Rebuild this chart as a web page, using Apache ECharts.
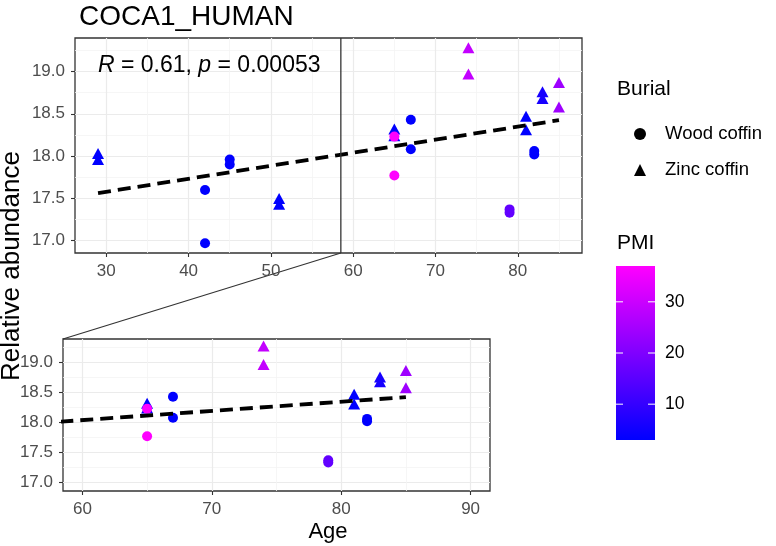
<!DOCTYPE html>
<html>
<head>
<meta charset="utf-8">
<script src="https://cdn.jsdelivr.net/npm/echarts@6/dist/echarts.min.js"></script>
<style>
html, body { margin: 0; padding: 0; background: #fff; }
#main { width: 776px; height: 546px; }
</style>
</head>
<body>
<div id="main"></div>
<script>
/* 数据 */
var ages      = [29, 29, 42, 42, 45, 45, 51, 51, 65, 65, 65, 65, 67, 67, 74, 74, 79, 79, 81, 81, 82, 82, 83, 83, 85, 85];
var abundance = [18.03, 17.96, 17.60, 16.97, 17.96, 17.90, 17.50, 17.43, 18.32, 18.24, 18.23, 17.77, 18.43, 18.08,
                 19.28, 18.97, 17.37, 17.33, 18.47, 18.31, 18.06, 18.02, 18.76, 18.68, 18.87, 18.58];
var burial    = ['Zinc coffin', 'Zinc coffin', 'Wood coffin', 'Wood coffin', 'Wood coffin', 'Wood coffin',
                 'Zinc coffin', 'Zinc coffin', 'Zinc coffin', 'Zinc coffin', 'Wood coffin', 'Wood coffin',
                 'Wood coffin', 'Wood coffin', 'Zinc coffin', 'Zinc coffin', 'Wood coffin', 'Wood coffin',
                 'Zinc coffin', 'Zinc coffin', 'Wood coffin', 'Wood coffin', 'Zinc coffin', 'Zinc coffin',
                 'Zinc coffin', 'Zinc coffin'];
var pmi       = [3, 3, 3, 3, 3, 3, 3, 3, 3, 3, 37, 37, 3, 3, 29, 29, 16, 16, 3, 3, 3, 3, 6, 6, 24, 24];

var burialTypes = ['Wood coffin', 'Zinc coffin'];
var burialIcons = ['circle', 'triangle'];
var zoomLimits  = [60, 90];
var xTicksTop    = [30, 40, 50, 60, 70, 80];
var xTicksBottom = [60, 70, 80, 90];
var yTicks       = [17.0, 17.5, 18.0, 18.5, 19.0];
var pmiRange     = [3, 37];
var pmiTicks     = [10, 20, 30];
var corLabel     = '{it|R} = 0.61, {it|p} = 0.00053';

var FONT = '"Liberation Sans", Arial, Helvetica, sans-serif';

// ggplot 式的 5% 扩展
function expand(lo, hi) {
  var d = (hi - lo) * 0.05;
  return [lo - d, hi + d];
}
var xRangeTop = expand(Math.min.apply(null, ages), Math.max.apply(null, ages));
var yRange = expand(Math.min.apply(null, abundance), Math.max.apply(null, abundance));
var xRangeZoom = expand(zoomLimits[0], zoomLimits[1]);

// 线性回归
var n = ages.length, mx = 0, my = 0;
for (var i = 0; i < n; i++) { mx += ages[i]; my += abundance[i]; }
mx /= n; my /= n;
var sxy = 0, sxx = 0;
for (var i = 0; i < n; i++) { sxy += (ages[i] - mx) * (abundance[i] - my); sxx += (ages[i] - mx) * (ages[i] - mx); }
var slope = sxy / sxx, icpt = my - slope * mx;
var fitX = [Math.min.apply(null, ages), Math.max.apply(null, ages)];
var fitLine = fitX.map(function (x) { return [x, icpt + slope * x]; });

function pointsFor(type, lim) {
  var out = [];
  for (var i = 0; i < n; i++) {
    if (burial[i] !== type) continue;
    if (lim && (ages[i] < lim[0] || ages[i] > lim[1])) continue;
    out.push([ages[i], abundance[i], pmi[i]]);
  }
  return out;
}

function xAxisFor(gi, range, split, ticks) {
  return {
    type: 'value', gridIndex: gi, min: range[0], max: range[1], splitNumber: split,
    axisLine: { show: false },
    axisTick: { show: true, length: 4, customValues: ticks, lineStyle: { color: '#333', width: 1.1 } },
    axisLabel: { customValues: ticks, color: '#4d4d4d', fontSize: 17, margin: 10, fontFamily: FONT },
    splitLine: { show: true, lineStyle: { color: '#ebebeb', width: 1.2 } },
    minorTick: { show: false, splitNumber: 2 },
    minorSplitLine: { show: true, lineStyle: { color: '#f4f4f4', width: 0.8 } }
  };
}
function yAxisFor(gi) {
  return {
    type: 'value', gridIndex: gi, min: yRange[0], max: yRange[1], splitNumber: 5,
    axisLine: { show: false },
    axisTick: { show: true, length: 4, customValues: yTicks, lineStyle: { color: '#333', width: 1.1 } },
    axisLabel: {
      customValues: yTicks, color: '#4d4d4d', fontSize: 17, margin: 10, fontFamily: FONT,
      formatter: function (v) { return v.toFixed(1); }
    },
    splitLine: { show: true, lineStyle: { color: '#ebebeb', width: 1.2 } },
    minorTick: { show: false, splitNumber: 2 },
    minorSplitLine: { show: true, lineStyle: { color: '#f4f4f4', width: 0.8 } }
  };
}

var series = [];
[0, 1].forEach(function (gi) {
  burialTypes.forEach(function (t, k) {
    series.push({
      name: t, type: 'scatter', xAxisIndex: gi, yAxisIndex: gi,
      symbol: burialIcons[k],
      symbolSize: k === 0 ? 10 : [12, 11],
      itemStyle: { opacity: 1 },
      data: pointsFor(t, gi === 1 ? xRangeZoom : null),
      clip: true, z: k === 0 ? 4 : 3
    });
  });
  series.push({
    name: 'fit', type: 'line', xAxisIndex: gi, yAxisIndex: gi,
    data: fitLine, symbol: 'none', clip: true, silent: true, z: 5,
    lineStyle: { color: '#000', width: 3.8, type: [13, 7] }
  });
});
// 放大区域的左边界
series.push({
  name: 'zoomEdge', type: 'line', xAxisIndex: 0, yAxisIndex: 0,
  data: [[xRangeZoom[0], yRange[0]], [xRangeZoom[0], yRange[1]]],
  symbol: 'none', silent: true, z: 6,
  lineStyle: { color: '#333', width: 1.3 }
});

// 色标
var bar = { x: 616, y: 266, w: 39, h: 174 };
var graphics = [
  { type: 'text', id: 'ylab', x: 12, y: 266, rotation: Math.PI / 2,
    style: { text: 'Relative abundance', fontSize: 26, fontFamily: FONT, fill: '#000', align: 'center', verticalAlign: 'middle' } },
  { type: 'text', id: 'xlab', x: 328, y: 532,
    style: { text: 'Age', fontSize: 22, fontFamily: FONT, fill: '#000', align: 'center', verticalAlign: 'middle' } },
  { type: 'text', id: 'cor', x: 98, y: 66, z: 10,
    style: { text: corLabel, fontSize: 23, fontFamily: FONT, fill: '#000', verticalAlign: 'middle',
      rich: { it: { fontStyle: 'italic', fontSize: 23, fontFamily: FONT } } } },
  { type: 'text', id: 'burialTitle', x: 617, y: 89,
    style: { text: 'Burial', fontSize: 21, fontFamily: FONT, fill: '#000', verticalAlign: 'middle' } },
  { type: 'text', id: 'pmiTitle', x: 617, y: 243,
    style: { text: 'PMI', fontSize: 21, fontFamily: FONT, fill: '#000', verticalAlign: 'middle' } },
  { type: 'rect', id: 'pmiBar', shape: { x: bar.x, y: bar.y, width: bar.w, height: bar.h },
    style: { fill: new echarts.graphic.LinearGradient(0, 0, 0, 1, [
      { offset: 0, color: '#ff00ff' }, { offset: 1, color: '#0000ff' }]) } }
];
pmiTicks.forEach(function (v, k) {
  var ty = bar.y + bar.h * (pmiRange[1] - v) / (pmiRange[1] - pmiRange[0]);
  graphics.push({ type: 'line', id: 'tl' + k, shape: { x1: bar.x, y1: ty, x2: bar.x + 7, y2: ty }, style: { stroke: '#fff', lineWidth: 1 }, z: 20 });
  graphics.push({ type: 'line', id: 'tr' + k, shape: { x1: bar.x + bar.w - 7, y1: ty, x2: bar.x + bar.w, y2: ty }, style: { stroke: '#fff', lineWidth: 1 }, z: 20 });
  graphics.push({ type: 'text', id: 'tt' + k, x: 665, y: ty,
    style: { text: String(v), fontSize: 17.5, fontFamily: FONT, fill: '#000', verticalAlign: 'middle' } });
});

var chart = echarts.init(document.getElementById('main'), null, { renderer: 'canvas' });
var option = {
  backgroundColor: '#fff',
  animation: false,
  title: {
    text: 'COCA1_HUMAN', left: 74, top: -2,
    textStyle: { fontSize: 28, fontWeight: 'normal', color: '#000', fontFamily: FONT }
  },
  grid: [
    { left: 75, top: 38, width: 507, height: 215, show: true, borderColor: '#333', borderWidth: 1.3, backgroundColor: 'transparent' },
    { left: 63, top: 339, width: 427, height: 152, show: true, borderColor: '#333', borderWidth: 1.3, backgroundColor: 'transparent' }
  ],
  xAxis: [xAxisFor(0, xRangeTop, 5, xTicksTop), xAxisFor(1, xRangeZoom, 3, xTicksBottom)],
  yAxis: [yAxisFor(0), yAxisFor(1)],
  visualMap: {
    type: 'continuous', show: false, dimension: 2,
    min: pmiRange[0], max: pmiRange[1],
    seriesIndex: [0, 1, 3, 4],
    inRange: { color: ['#0000ff', '#ff00ff'] }
  },
  legend: {
    orient: 'vertical', left: 629, top: 118, itemGap: 14,
    itemWidth: 12, itemHeight: 12,
    data: burialTypes.map(function (t, k) {
      return { name: t, icon: burialIcons[k], itemStyle: { color: '#000' } };
    }),
    textStyle: { fontSize: 18.5, fontFamily: FONT, color: '#000', lineHeight: 22, padding: [0, 0, 0, 14] }
  },
  graphic: graphics,
  series: series
};
chart.setOption(option);

// 放大连接线
var pA = chart.convertToPixel({ gridIndex: 0 }, [xRangeZoom[0], yRange[0]]);
var pB = chart.convertToPixel({ gridIndex: 1 }, [xRangeZoom[0], yRange[1]]);
chart.setOption({
  graphic: [{ type: 'line', id: 'zoomLink', shape: { x1: pA[0], y1: pA[1], x2: pB[0], y2: pB[1] }, style: { stroke: '#333', lineWidth: 1.2 } }]
});
</script>
</body>
</html>
